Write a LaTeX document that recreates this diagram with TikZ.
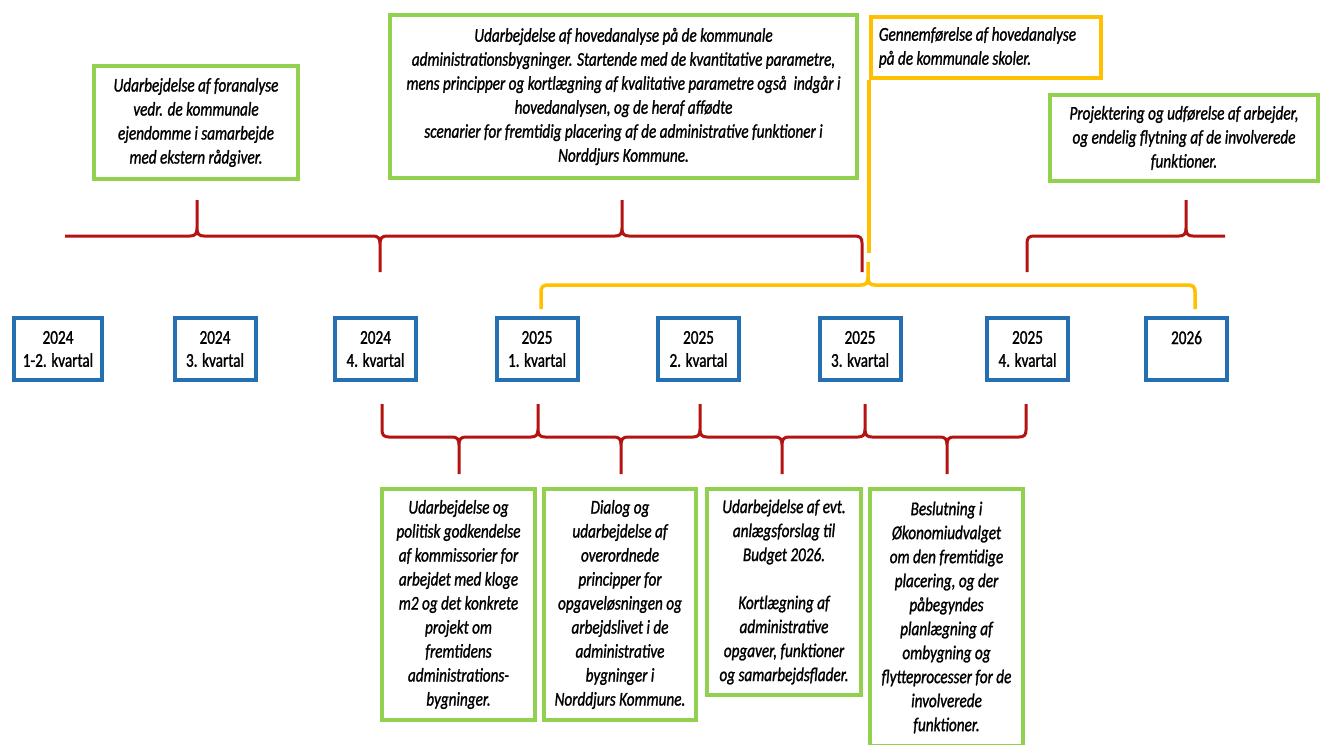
\documentclass[tikz,border=0pt]{standalone}
\usepackage{fontspec}
\setmainfont{Carlito}[FakeStretch=0.78, FakeBold=1.2]
\definecolor{grn}{HTML}{92D050}
\definecolor{blu}{HTML}{2470B3}
\definecolor{yel}{HTML}{FFC000}
\definecolor{rd}{HTML}{B51212}
% brace helpers: x, line y, tip y, direction (-1 up, +1 down)
\newcommand{\brSpike}[4]{-- ({#1-7},#2) .. controls ({#1-2},#2) and (#1,{#2+2*(#4)}) .. (#1,{#2+8*(#4)}) -- (#1,#3) -- (#1,{#2+8*(#4)}) .. controls (#1,{#2+2*(#4)}) and ({#1+2},#2) .. ({#1+7},#2)}
\newcommand{\brEnd}[4]{-- ({#1-7},#2) .. controls ({#1-2},#2) and (#1,{#2+2*(#4)}) .. (#1,{#2+7*(#4)}) -- (#1,#3)}
\newcommand{\brStart}[4]{(#1,#3) -- (#1,{#2+7*(#4)}) .. controls (#1,{#2+2*(#4)}) and ({#1+2},#2) .. ({#1+7},#2)}
\begin{document}
\begin{tikzpicture}[x=1pt,y=-1pt,
  txt/.style={font=\fontsize{19.5}{24}\selectfont\itshape, align=center},
  gbox/.style={draw=grn, line width=4pt, txt, inner sep=0pt},
  qbox/.style={draw=blu, line width=4pt, font=\fontsize{19.5}{23}\selectfont, align=center,
               minimum width=81pt, minimum height=62pt, inner sep=0pt},
  redline/.style={draw=rd, line width=3pt},
  yelline/.style={draw=yel, line width=3.5pt}]
\useasboundingbox[fill=white] (0,0) rectangle (1324,744);

% top boxes
\node[gbox, minimum width=204pt, minimum height=113pt] (T1) at (196,122.5)
  {Udarbejdelse af foranalyse\\vedr. de kommunale\\ejendomme i samarbejde\\med ekstern rådgiver.};
\node[gbox, minimum width=467pt, minimum height=163pt] (T2) at (623.5,96.5)
  {Udarbejdelse af hovedanalyse på de kommunale\\
   administrationsbygninger. Startende med de kvantitative parametre,\\
   mens principper og kortlægning af kvalitative parametre også~ indgår i\\
   hovedanalysen, og de heraf affødte\\
   scenarier for fremtidig placering af de administrative funktioner i\\
   Norddjurs Kommune.};
\node[draw=yel, line width=4pt, font=\fontsize{19.5}{24}\selectfont\itshape, align=flush left,
      inner sep=0pt, minimum width=230pt, minimum height=61pt] (Yb) at (986,47.5)
  {Gennemførelse af hovedanalyse\\på de kommunale skoler.\hspace*{62pt}};
\node[gbox, minimum width=268pt, minimum height=86pt] (T3) at (1184,138)
  {Projektering og udførelse af arbejder,\\og endelig flytning af de involverede\\funktioner.};

% quarter boxes
\node[qbox, minimum width=88pt] (Q1) at (58,349) {2024\\1-2. kvartal};
\node[qbox] (Q2) at (215,349) {2024\\3. kvartal};
\node[qbox] (Q3) at (375.5,349) {2024\\4. kvartal};
\node[qbox] (Q4) at (537,349) {2025\\1. kvartal};
\node[qbox] (Q5) at (698.5,349) {2025\\2. kvartal};
\node[qbox] (Q6) at (860,349) {2025\\3. kvartal};
\node[qbox] (Q7) at (1027.5,349) {2025\\4. kvartal};
\node[qbox] (Q8) at (1186.5,349) {2026\\~};

% bottom boxes
\node[gbox, minimum width=153pt, minimum height=231pt] (G1) at (458.5,604.5)
  {Udarbejdelse og\\politisk godkendelse\\af kommissorier for\\arbejdet med kloge\\m2 og det konkrete\\projekt om\\fremtidens\\administrations-\\bygninger.};
\node[gbox, minimum width=152pt, minimum height=231pt] (G2) at (620,604.5)
  {Dialog og\\udarbejdelse af\\overordnede\\principper for\\opgaveløsningen og\\arbejdslivet i de\\administrative\\bygninger i\\Norddjurs Kommune.};
\node[gbox, minimum width=154pt, minimum height=206pt] (G3) at (784,592)
  {Udarbejdelse af evt.\\anlægsforslag til\\Budget 2026.\\[24pt]Kortlægning af\\administrative\\opgaver, funktioner\\og samarbejdsflader.};
\node[gbox, minimum width=153pt, minimum height=257pt] (G4) at (946.5,617.5)
  {Beslutning i\\Økonomiudvalget\\om den fremtidige\\placering, og der\\påbegyndes\\planlægning af\\ombygning og\\flytteprocesser for de\\involverede\\funktioner.};

% top red braces
\draw[redline] (65,236) \brSpike{197}{236}{200}{-1} \brSpike{380}{236}{272}{1}
  \brSpike{622}{236}{200}{-1} \brEnd{862}{236}{272}{1};
\draw[redline] \brStart{1027}{236}{272}{1} \brSpike{1186}{236}{200}{-1} -- (1225,236);

% yellow connector and brace
\coordinate (ye) at (869,253);
\draw[yelline] (Yb.south west) -- (ye);
\draw[yelline] \brStart{541}{285}{309}{1} \brSpike{868}{285}{262}{-1} \brEnd{1195}{285}{309}{1};

% bottom red braces
\draw[redline] \brStart{382}{437}{404}{-1} \brSpike{459}{437}{474}{1} \brSpike{538}{437}{404}{-1}
  \brSpike{621}{437}{474}{1} \brSpike{700}{437}{404}{-1} \brSpike{782}{437}{474}{1}
  \brSpike{865}{437}{404}{-1} \brSpike{947}{437}{474}{1} \brEnd{1026}{437}{404}{-1};
\end{tikzpicture}
\end{document}
